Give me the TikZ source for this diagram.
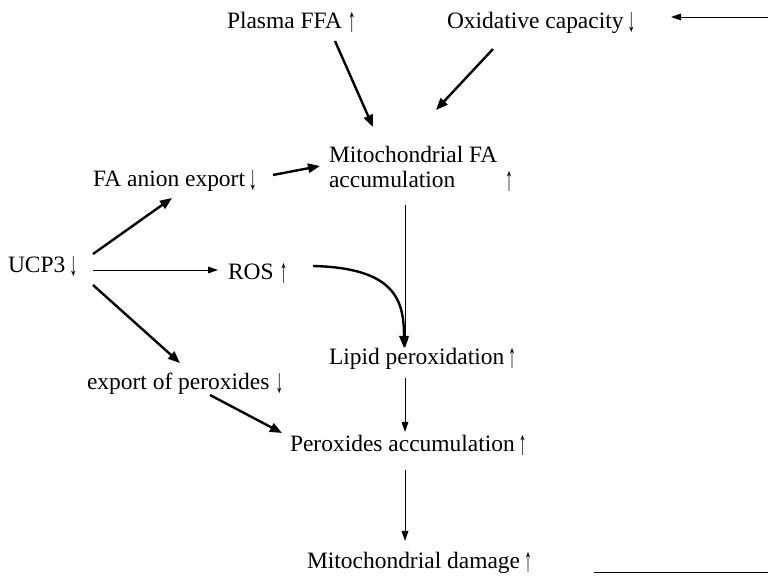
\documentclass[tikz,border=0pt]{standalone}
\usepackage{fontspec}
\usepackage{graphicx}
\setmainfont{Liberation Serif}
\usetikzlibrary{arrows.meta}
\newcommand\uparr{\raisebox{-3pt}{\resizebox{6pt}{15pt}{\raisebox{\depth}{↑}}}}
\newcommand\dnarr{\raisebox{-3pt}{\resizebox{6pt}{15pt}{\raisebox{\depth}{↓}}}}
\begin{document}
\begin{tikzpicture}[x=0.75pt,y=-0.75pt,
  lbl/.style={inner sep=0pt,outer sep=0pt,anchor=base west,font=\fontsize{17.6}{21}\selectfont},
  thickarr/.style={line width=1.8pt,-{Triangle[length=9pt,width=7pt]}},
  thinarr/.style={line width=0.7pt,-{Triangle[length=7.5pt,width=5pt]}},
  thinline/.style={line width=0.7pt}]
\useasboundingbox (0,0) rectangle (768,580);
% nodes
\node[lbl] (pffa) at (227,29) {Plasma FFA \uparr};
\node[lbl] (oxc) at (447,29) {Oxidative capacity\,\dnarr};
\node[lbl] (mito) at (329,163) {\vtop{\baselineskip=18.75pt\hbox{Mitochondrial FA}\hbox to 138pt{accumulation\hfill\uparr}}};
\node[lbl] (fae) at (93,187) {FA anion export\,\dnarr};
\node[lbl] (ucp) at (8,273) {UCP3\,\dnarr};
\node[lbl] (ros) at (228,280) {ROS \uparr};
\node[lbl] (lip) at (329,365) {Lipid peroxidation\,\uparr};
\node[lbl] (exp) at (87,390) {export of peroxides \dnarr};
\node[lbl] (pac) at (290,452) {Peroxides accumulation\,\uparr};
\node[lbl] (dam) at (307,569) {Mitochondrial damage\,\uparr};
\coordinate (rin) at (768,17);
\coordinate (bl1) at (594,572);
\coordinate (bl2) at (768,572);
% connectors
\draw[thickarr] ([shift={(108,12)}]pffa.base west) -- ([shift={(44,-36)}]mito.base west);
\draw[thickarr] ([shift={(46,20)}]oxc.base west) -- ([shift={(107,-53)}]mito.base west);
\draw[thinarr] (rin) -- ([shift={(224,-12)}]oxc.base west);
\draw[thickarr] ([shift={(180,-12)}]fae.base west) -- ([shift={(-9,3)}]mito.base west);
\draw[thickarr] ([shift={(85,-19)}]ucp.base west) -- ([shift={(79,11)}]fae.base west);
\draw[thinarr] ([shift={(85,-3)}]ucp.base west) -- ([shift={(-10,-10)}]ros.base west);
\draw[thickarr] ([shift={(85,12)}]ucp.base west) -- ([shift={(93,-27)}]exp.base west);
\draw[thinarr] ([shift={(76,42)}]mito.base west) -- ([shift={(76,-17)}]lip.base west);
\draw[thickarr] ([shift={(85,-14)}]ros.base west) .. controls (395,268) and (404,300) .. ([shift={(75,-17)}]lip.base west);
\draw[thinarr] ([shift={(76,13)}]lip.base west) -- ([shift={(115,-20)}]pac.base west);
\draw[thickarr] ([shift={(123,5)}]exp.base west) -- ([shift={(-8,-19)}]pac.base west);
\draw[thinarr] ([shift={(115,18)}]pac.base west) -- ([shift={(98,-28)}]dam.base west);
\draw[thinline] (bl1) -- (bl2);
\end{tikzpicture}
\end{document}
